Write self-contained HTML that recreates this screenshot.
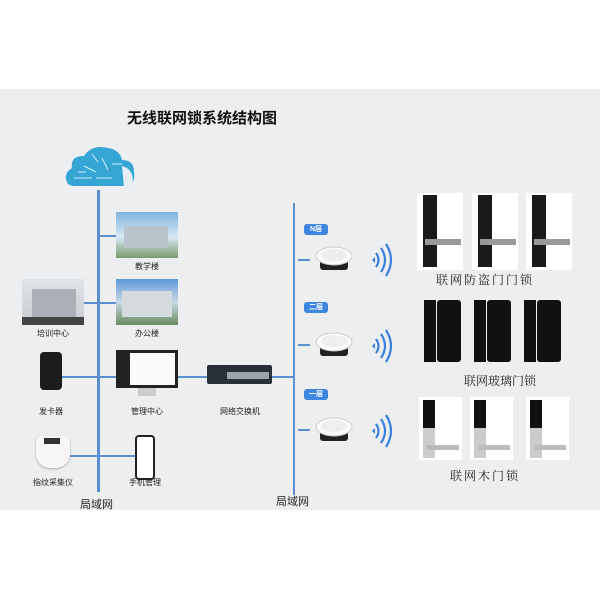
<!DOCTYPE html>
<html><head><meta charset="utf-8"><style>
body{margin:0;width:600px;height:600px;background:#fff;position:relative;overflow:hidden;font-family:"Liberation Sans","Noto Sans CJK SC",sans-serif}
.a{position:absolute}
.bg{left:0;top:89px;width:600px;height:421px;background:#eceef0}
.ln{background:#5b8fd0}
.lb{font-size:8px;color:#222;text-align:center;width:80px}
.tag{background:#3e86e0;color:#fff;font-size:7px;border-radius:3px;width:24px;height:11px;line-height:11px;text-align:center;font-weight:bold}
.big{font-size:12px;color:#222;letter-spacing:2px;text-align:center;width:200px;font-family:"Liberation Serif","Noto Serif CJK SC",serif}
.wl{background:#fff}
</style></head><body>
<div class="a bg"></div>
<div class="a" style="left:127px;top:107px;width:180px;font-size:15px;font-weight:bold;color:#111">无线联网锁系统结构图</div>

<!-- cloud -->
<svg class="a" style="left:62px;top:144px" width="76" height="48"><path d="M6 40 Q0 30 10 24 Q8 12 22 12 Q30 0 46 4 Q58 6 60 16 Q72 16 72 28 Q74 40 64 42 L10 42 Z" fill="#35a6d3"/><path d="M60 22 Q74 26 70 44 L62 44 Z" fill="#e6eef4"/><g stroke="#cdeef9" stroke-width="1" fill="none"><path d="M12 34 H30 M34 34 H50 M22 22 L34 28 M40 14 L46 26 M50 20 H60 M16 28 H24 M30 10 L36 18"/></g></svg>

<!-- left line -->
<div class="a ln" style="left:97px;top:190px;width:3px;height:302px"></div>
<div class="a ln" style="left:100px;top:235px;width:16px;height:2px"></div>
<div class="a ln" style="left:84px;top:302px;width:32px;height:2px"></div>
<div class="a ln" style="left:62px;top:376px;width:54px;height:2px"></div>
<div class="a ln" style="left:178px;top:376px;width:117px;height:2px"></div>
<div class="a ln" style="left:70px;top:455px;width:65px;height:2px"></div>

<!-- buildings -->
<div class="a" style="left:116px;top:212px;width:62px;height:46px;background:linear-gradient(#7fb5e0,#d8e8f2 55%,#7a9a70)"><div class="a" style="left:8px;top:14px;width:44px;height:22px;background:#b8c4cc"></div></div>
<div class="a lb" style="left:107px;top:261px">教学楼</div>
<div class="a" style="left:116px;top:279px;width:62px;height:46px;background:linear-gradient(#5c9ad8,#c8d8e4 50%,#6a8a60)"><div class="a" style="left:6px;top:12px;width:50px;height:26px;background:#d4dade"></div></div>
<div class="a lb" style="left:107px;top:328px">办公楼</div>
<div class="a" style="left:22px;top:279px;width:62px;height:46px;background:linear-gradient(#dfe4e8,#c8ccd0)"><div class="a" style="left:10px;top:10px;width:44px;height:28px;background:#aab0b6"></div><div class="a" style="left:0;top:38px;width:62px;height:8px;background:#444"></div></div>
<div class="a lb" style="left:13px;top:328px">培训中心</div>

<div class="a" style="left:40px;top:352px;width:22px;height:38px;background:#1c1c1c;border-radius:4px"></div>
<div class="a lb" style="left:11px;top:406px">发卡器</div>
<div class="a" style="left:116px;top:350px;width:62px;height:38px;background:#222"><div class="a" style="left:14px;top:3px;width:45px;height:32px;background:#fafafa"></div></div>
<div class="a" style="left:138px;top:388px;width:18px;height:8px;background:#ccc"></div>
<div class="a lb" style="left:107px;top:406px">管理中心</div>
<div class="a" style="left:207px;top:365px;width:65px;height:19px;background:#2a3038;border-radius:2px"><div class="a" style="left:20px;top:7px;width:42px;height:7px;background:#9aa4ae"></div></div>
<div class="a lb" style="left:200px;top:406px">网络交换机</div>
<div class="a" style="left:36px;top:436px;width:34px;height:32px;background:#f6f6f6;border-radius:6px 6px 14px 14px;box-shadow:0 1px 2px #aaa"><div class="a" style="left:8px;top:2px;width:16px;height:6px;background:#333"></div></div>
<div class="a lb" style="left:13px;top:477px">指纹采集仪</div>
<div class="a" style="left:135px;top:435px;width:20px;height:45px;background:#fff;border:2px solid #222;border-radius:4px;box-sizing:border-box"></div>
<div class="a lb" style="left:105px;top:477px">手机管理</div>

<div class="a" style="left:80px;top:496px;font-size:11px;color:#222">局域网</div>
<div class="a" style="left:276px;top:493px;font-size:11px;color:#222">局域网</div>

<div class="a ln" style="left:293px;top:203px;width:2px;height:292px"></div>
<div class="a ln" style="left:298px;top:259px;width:12px;height:2px"></div>
<div class="a ln" style="left:298px;top:344px;width:12px;height:2px"></div>
<div class="a ln" style="left:298px;top:429px;width:12px;height:2px"></div>
<div class="a tag" style="left:304px;top:224px">N层</div>
<div class="a tag" style="left:304px;top:302px">二层</div>
<div class="a tag" style="left:304px;top:389px">一层</div>

<svg class="a" style="left:314px;top:240px" width="90" height="210">
<defs><g id="ap"><rect x="6" y="14" width="28" height="12" rx="3" fill="#222"/><ellipse cx="20" cy="12" rx="18" ry="9" fill="#fafafa" stroke="#ccc"/><ellipse cx="20" cy="11" rx="13" ry="6" fill="#eee"/>
<path d="M62 9 Q67 16 62 23 M67 4 Q75 16 67 28 M72 0 Q82 16 72 32" stroke="#3a80dc" stroke-width="2.2" fill="none"/><path d="M58 16 l3-3 v6z" fill="#3a80dc"/></g></defs>
<use href="#ap" y="4"/><use href="#ap" y="90"/><use href="#ap" y="175"/>
</svg>

<div class="a wl" style="left:417px;top:193px;width:46px;height:77px"><div class="a" style="left:6px;top:2px;width:14px;height:72px;background:#1a1a1a"></div><div class="a" style="left:8px;top:46px;width:36px;height:6px;background:#999"></div></div>
<div class="a wl" style="left:472px;top:193px;width:46px;height:77px"><div class="a" style="left:6px;top:2px;width:14px;height:72px;background:#1a1a1a"></div><div class="a" style="left:8px;top:46px;width:36px;height:6px;background:#999"></div></div>
<div class="a wl" style="left:526px;top:193px;width:46px;height:77px"><div class="a" style="left:6px;top:2px;width:14px;height:72px;background:#1a1a1a"></div><div class="a" style="left:8px;top:46px;width:36px;height:6px;background:#999"></div></div>
<div class="a big" style="left:385px;top:271px">联网防盗门门锁</div>
<div class="a" style="left:424px;top:300px;width:12px;height:62px;background:#111"></div><div class="a" style="left:437px;top:300px;width:24px;height:62px;background:#111;border-radius:3px"></div>
<div class="a" style="left:474px;top:300px;width:12px;height:62px;background:#111"></div><div class="a" style="left:487px;top:300px;width:24px;height:62px;background:#111;border-radius:3px"></div>
<div class="a" style="left:524px;top:300px;width:12px;height:62px;background:#111"></div><div class="a" style="left:537px;top:300px;width:24px;height:62px;background:#111;border-radius:3px"></div>
<div class="a big" style="left:400px;top:372px;letter-spacing:0">联网玻璃门锁</div>
<div class="a wl" style="left:419px;top:397px;width:43px;height:63px"><div class="a" style="left:4px;top:3px;width:12px;height:58px;background:#ccc"></div><div class="a" style="left:4px;top:3px;width:12px;height:28px;background:#111"></div><div class="a" style="left:8px;top:48px;width:32px;height:5px;background:#bbb"></div></div>
<div class="a wl" style="left:470px;top:397px;width:43px;height:63px"><div class="a" style="left:4px;top:3px;width:12px;height:58px;background:#ccc"></div><div class="a" style="left:4px;top:3px;width:12px;height:28px;background:#111"></div><div class="a" style="left:8px;top:48px;width:32px;height:5px;background:#bbb"></div></div>
<div class="a wl" style="left:526px;top:397px;width:43px;height:63px"><div class="a" style="left:4px;top:3px;width:12px;height:58px;background:#ccc"></div><div class="a" style="left:4px;top:3px;width:12px;height:28px;background:#111"></div><div class="a" style="left:8px;top:48px;width:32px;height:5px;background:#bbb"></div></div>
<div class="a big" style="left:385px;top:467px">联网木门锁</div>
</body></html>
